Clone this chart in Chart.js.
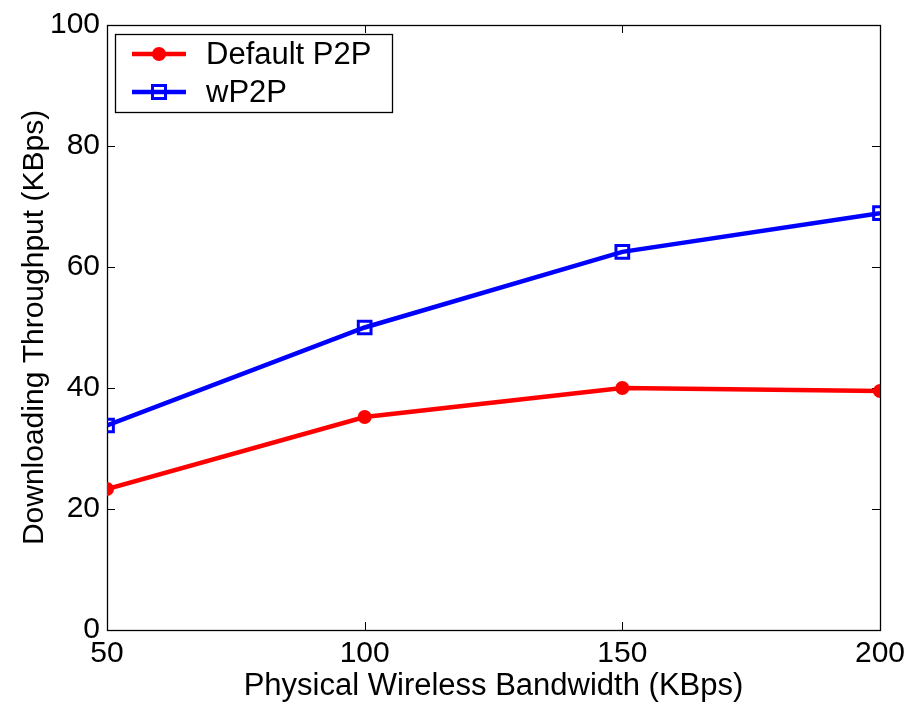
<!DOCTYPE html>
<html><head><meta charset="utf-8">
<script src="https://cdn.jsdelivr.net/npm/chart.js@4/dist/chart.umd.min.js"></script>
<style>html,body{margin:0;padding:0;background:#fff}#wrap{width:920px;height:702px}</style>
</head><body><div id="wrap"><canvas id="c" width="920" height="702"></canvas></div>
<script>
const bandwidth = [50, 100, 150, 200];
const defaultP2P = [23.3, 35.2, 40.0, 39.5];
const wP2P = [33.8, 50.0, 62.5, 68.9];
const xTicks = [50, 100, 150, 200];
const yTicks = [0, 20, 40, 60, 80, 100];
const seriesNames = ['Default P2P', 'wP2P'];
const xTitle = 'Physical Wireless Bandwidth (KBps)';
const yTitle = 'Downloading Throughput (KBps)';

const FONT = '"Liberation Sans", Arial, Helvetica, sans-serif';
const TICK_SIZE = 30, TITLE_SIZE = 31;

const toPts = (xs, ys) => xs.map((x, i) => ({x: x, y: ys[i]}));

const boxTicks = {
  id: 'boxTicks',
  beforeDatasetsDraw(chart) {
    const {ctx, chartArea: a, scales: {x, y}} = chart;
    ctx.save();
    ctx.strokeStyle = '#000';
    ctx.lineWidth = 1.3;
    ctx.strokeRect(a.left + 0.5, a.top + 0.5, a.right - a.left, a.bottom - a.top);
    const L = 8;
    ctx.lineWidth = 1;
    ctx.beginPath();
    xTicks.forEach(v => {
      const px = Math.round(x.getPixelForValue(v)) + 0.5;
      ctx.moveTo(px, a.bottom); ctx.lineTo(px, a.bottom - L);
      ctx.moveTo(px, a.top); ctx.lineTo(px, a.top + L);
    });
    yTicks.forEach(v => {
      const py = Math.round(y.getPixelForValue(v)) + 0.5;
      ctx.moveTo(a.left, py); ctx.lineTo(a.left + L, py);
      ctx.moveTo(a.right, py); ctx.lineTo(a.right - L, py);
    });
    ctx.stroke();
    ctx.restore();
  },
  afterDraw(chart) {
    const {ctx, chartArea: a} = chart;
    const bx = a.left + 8, by = a.top + 9, bw = 277, bh = 78;
    ctx.save();
    ctx.fillStyle = '#fff';
    ctx.fillRect(bx, by, bw, bh);
    ctx.strokeStyle = '#000';
    ctx.lineWidth = 1.3;
    ctx.strokeRect(bx + 0.5, by + 0.5, bw, bh);
    chart.data.datasets.forEach((ds, i) => {
      const cy = by + 20 + i * 38;
      ctx.strokeStyle = ds.borderColor;
      ctx.lineWidth = 4.5;
      ctx.beginPath();
      ctx.moveTo(bx + 17, cy); ctx.lineTo(bx + 71, cy);
      ctx.stroke();
      const mx = bx + 44;
      if (ds.pointStyle === 'rect') {
        ctx.lineWidth = 3;
        ctx.strokeRect(mx - 6.5, cy - 6.5, 13, 13);
      } else {
        ctx.fillStyle = ds.borderColor;
        ctx.beginPath(); ctx.arc(mx, cy, 7, 0, Math.PI * 2); ctx.fill();
      }
      ctx.fillStyle = '#000';
      ctx.font = TITLE_SIZE + 'px ' + FONT;
      ctx.textBaseline = 'middle';
      ctx.textAlign = 'left';
      ctx.fillText(ds.label, bx + 91, cy + 1);
    });
    ctx.restore();
  }
};

new Chart(document.getElementById('c'), {
  type: 'line',
  data: {
    datasets: [
      {
        label: seriesNames[0],
        data: toPts(bandwidth, defaultP2P),
        borderColor: '#ff0000', backgroundColor: '#ff0000',
        borderWidth: 4.5, pointStyle: 'circle', pointRadius: 7,
        pointBorderWidth: 0, pointBackgroundColor: '#ff0000', pointBorderColor: '#ff0000'
      },
      {
        label: seriesNames[1],
        data: toPts(bandwidth, wP2P),
        borderColor: '#0000ff', backgroundColor: '#0000ff',
        borderWidth: 4.5, pointStyle: 'rect', pointRadius: 9,
        pointBorderWidth: 3, pointBackgroundColor: 'rgba(0,0,0,0)', pointBorderColor: '#0000ff'
      }
    ]
  },
  options: {
    responsive: false, animation: false, devicePixelRatio: 1,
    layout: {padding: {top: 20, right: 40, left: 0, bottom: 0}},
    plugins: {legend: {display: false}, tooltip: {enabled: false}},
    scales: {
      x: {
        type: 'linear', min: 50, max: 200,
        afterBuildTicks: s => { s.ticks = xTicks.map(v => ({value: v})); },
        afterFit: s => { s.height = 72; },
        grid: {display: false, drawTicks: false},
        border: {display: false},
        ticks: {color: '#000', font: {family: FONT, size: TICK_SIZE}, padding: 6, maxRotation: 0},
        title: {display: true, text: xTitle, color: '#000', font: {family: FONT, size: TITLE_SIZE, lineHeight: 1.0}, padding: {top: 0, bottom: 0}}
      },
      y: {
        type: 'linear', min: 0, max: 100,
        afterBuildTicks: s => { s.ticks = yTicks.map(v => ({value: v})); },
        afterFit: s => { s.width = 107; },
        grid: {display: false, drawTicks: false},
        border: {display: false},
        ticks: {color: '#000', font: {family: FONT, size: TICK_SIZE}, padding: 7},
        title: {display: true, text: yTitle, color: '#000', font: {family: FONT, size: 30}, padding: {top: 17, bottom: 0}}
      }
    }
  },
  plugins: [boxTicks]
});
</script>
</body></html>
